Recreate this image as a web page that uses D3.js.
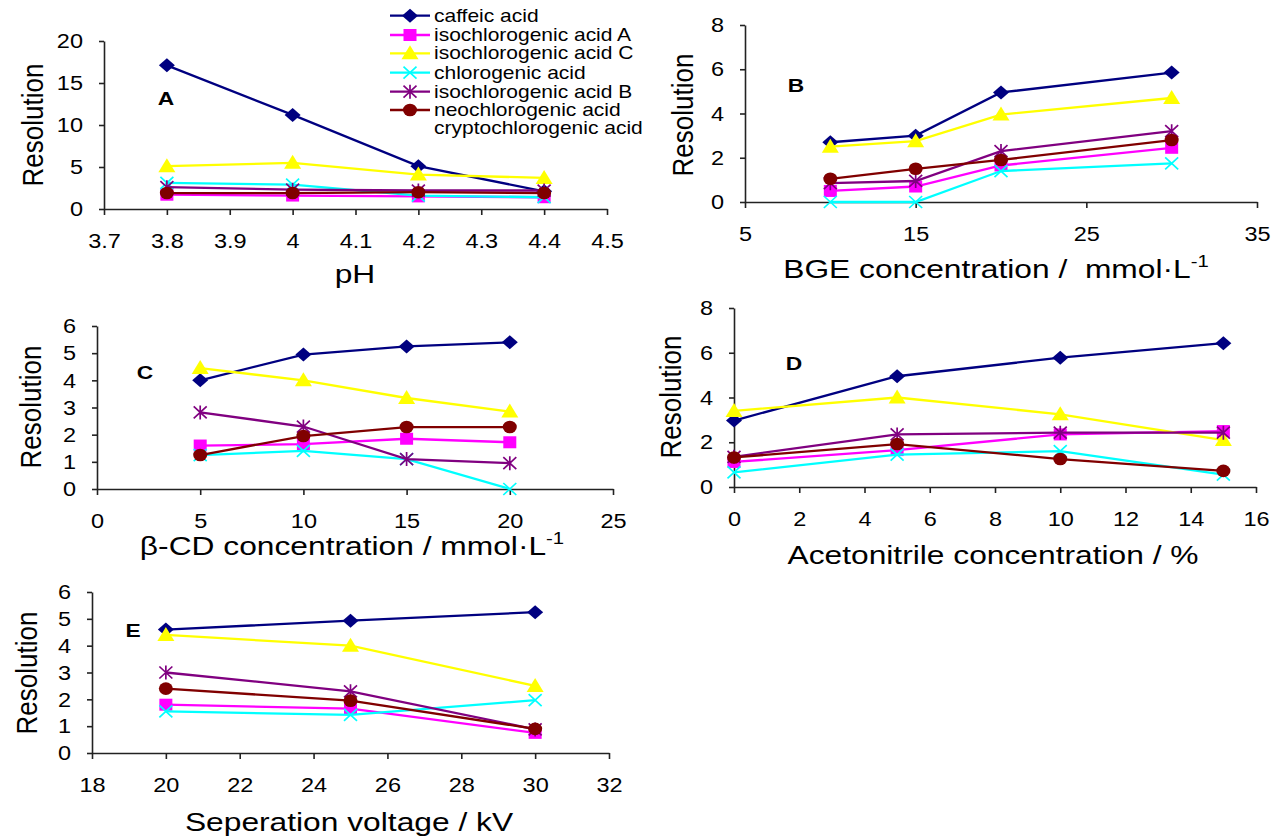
<!DOCTYPE html>
<html><head><meta charset="utf-8">
<script src="https://cdn.jsdelivr.net/npm/d3@7"></script>
<style>
body{margin:0;background:#fff}
text{font-family:"Liberation Sans",Arial,sans-serif;fill:#000}
</style>
</head><body><svg id="c" width="1280" height="839"></svg>
<script>
// ---------- data ----------
const seriesNames = ["caffeic acid","isochlorogenic acid A","isochlorogenic acid C","chlorogenic acid","isochlorogenic acid B","neochlorogenic acid"];
const legendExtra = "cryptochlorogenic acid";
const seriesColors = ["#000080","#ff00ff","#ffff00","#00ffff","#800080","#800000"];
const seriesMarkers = ["diamond","square","triangle","x","star","circle"];

// A: pH
const pH = [3.8, 4.0, 4.2, 4.4];
const resA = [
  [17.1, 11.2, 5.1, 2.1],
  [1.7, 1.6, 1.5, 1.4],
  [5.1, 5.5, 4.1, 3.7],
  [3.1, 2.9, 1.6, 1.4],
  [2.6, 2.3, 2.2, 2.2],
  [1.9, 1.9, 2.0, 1.9]
];
const ticksAx = [3.7, 3.8, 3.9, 4.0, 4.1, 4.2, 4.3, 4.4, 4.5];
const ticksAy = [0, 5, 10, 15, 20];

// B: BGE concentration
const bgeConc = [10, 15, 20, 30];
const resB = [
  [2.7, 3.0, 4.95, 5.85],
  [0.5, 0.7, 1.65, 2.45],
  [2.5, 2.75, 3.95, 4.7],
  [0, 0, 1.4, 1.75],
  [0.85, 0.95, 2.3, 3.2],
  [1.05, 1.5, 1.9, 2.8]
];
const ticksBx = [5, 15, 25, 35];
const ticksBy = [0, 2, 4, 6, 8];

// C: beta-CD concentration
const cdConc = [5, 10, 15, 20];
const resC = [
  [4.0, 4.95, 5.25, 5.4],
  [1.6, 1.65, 1.85, 1.72],
  [4.45, 4.0, 3.35, 2.85],
  [1.25, 1.4, 1.1, 0],
  [2.82, 2.3, 1.1, 0.95],
  [1.25, 1.95, 2.28, 2.28]
];
const ticksCx = [0, 5, 10, 15, 20, 25];
const ticksCy = [0, 1, 2, 3, 4, 5, 6];

// D: acetonitrile concentration
const acnConc = [0, 5, 10, 15];
const resD = [
  [2.97, 4.95, 5.78, 6.43],
  [1.12, 1.65, 2.35, 2.5],
  [3.4, 4.0, 3.25, 2.1],
  [0.65, 1.45, 1.6, 0.55],
  [1.35, 2.35, 2.43, 2.43],
  [1.32, 1.92, 1.25, 0.72]
];
const ticksDx = [0, 2, 4, 6, 8, 10, 12, 14, 16];
const ticksDy = [0, 2, 4, 6, 8];

// E: separation voltage
const voltage = [20, 25, 30];
const resE = [
  [4.6, 4.93, 5.25],
  [1.8, 1.65, 0.75],
  [4.4, 4.0, 2.5],
  [1.55, 1.42, 1.97],
  [3.0, 2.3, 0.88],
  [2.4, 1.95, 0.9]
];
const ticksEx = [18, 20, 22, 24, 26, 28, 30, 32];
const ticksEy = [0, 1, 2, 3, 4, 5, 6];

// ---------- layout ----------
const svg = d3.select("#c");
svg.append("rect").attr("width",1280).attr("height",839).attr("fill","#fff");

const panels = [
  {letter:"A", xs:pH, res:resA, xt:ticksAx, yt:ticksAy, xr:[104,607], yr:[209,41],
   letterPos:[166,105], ylab:[43,125], xlab:{text:"pH", x:355, y:283}},
  {letter:"B", xs:bgeConc, res:resB, xt:ticksBx, yt:ticksBy, xr:[745,1257], yr:[202,25],
   letterPos:[796,92], ylab:[693,115], xlab:{text:"BGE concentration /\u00a0 mmol·L", sup:"-1", x:996, y:278}},
  {letter:"C", xs:cdConc, res:resC, xt:ticksCx, yt:ticksCy, xr:[97,613], yr:[489,326],
   letterPos:[145,379], ylab:[41,407], xlab:{text:"β-CD concentration / mmol·L", sup:"-1", x:352, y:555}},
  {letter:"D", xs:acnConc, res:resD, xt:ticksDx, yt:ticksDy, xr:[734,1256], yr:[487,308],
   letterPos:[794,370], ylab:[681,397], xlab:{text:"Acetonitrile concentration / %", x:993, y:564}},
  {letter:"E", xs:voltage, res:resE, xt:ticksEx, yt:ticksEy, xr:[92,609], yr:[753,592],
   letterPos:[133,637], ylab:[37,673], xlab:{text:"Seperation voltage / kV", x:349, y:831}}
];

function stretchText(sel, sx){
  sel.each(function(){
    const t = d3.select(this);
    const xx = +t.attr("x") || 0, yy = +t.attr("y") || 0;
    t.attr("x",0).attr("y",0).attr("transform",`translate(${xx},${yy}) scale(${sx},1)`);
  });
}

function drawMarker(g, type, color, cx, cy){
  const m = g.append("g").attr("transform",`translate(${cx},${cy})`);
  switch(type){
    case "diamond":
      m.append("path").attr("d","M0,-7L8,0L0,7L-8,0Z").attr("fill",color); break;
    case "square":
      m.append("rect").attr("x",-6.5).attr("y",-6).attr("width",13).attr("height",12).attr("fill",color); break;
    case "triangle":
      m.append("path").attr("d","M0,-8L8.5,6L-8.5,6Z").attr("fill",color); break;
    case "x":
      m.append("path").attr("d","M-6.5,-6L6.5,6M-6.5,6L6.5,-6").attr("stroke",color).attr("stroke-width",1.7).attr("fill","none"); break;
    case "star":
      m.append("path").attr("d","M-6.5,-6L6.5,6M-6.5,6L6.5,-6M0,-7L0,7").attr("stroke",color).attr("stroke-width",1.7).attr("fill","none"); break;
    case "circle":
      m.append("ellipse").attr("rx",7).attr("ry",6.3).attr("fill",color); break;
  }
}

panels.forEach(p => {
  const x = d3.scaleLinear().domain([p.xt[0], p.xt[p.xt.length-1]]).range(p.xr);
  const y = d3.scaleLinear().domain([p.yt[0], p.yt[p.yt.length-1]]).range(p.yr);
  const g = svg.append("g");

  const xa = g.append("g").attr("transform",`translate(0,${p.yr[0]})`)
    .call(d3.axisBottom(x).tickValues(p.xt).tickFormat(d=>String(d)).tickSize(6).tickSizeOuter(0).tickPadding(18));
  const ya = g.append("g").attr("transform",`translate(${p.xr[0]},0)`)
    .call(d3.axisLeft(y).tickValues(p.yt).tickFormat(d=>String(d)).tickSize(5).tickSizeOuter(0).tickPadding(16));
  [xa, ya].forEach(a => {
    a.attr("font-size",null).attr("font-family",null);
    a.selectAll("path.domain").attr("stroke","#222").attr("stroke-width",1.6);
    a.selectAll(".tick line").attr("stroke","#222").attr("stroke-width",1.6);
    a.selectAll(".tick text").attr("font-size",21).attr("fill","#000");
    stretchText(a.selectAll(".tick text"), 1.12);
  });

  // series
  const line = d3.line().x((d,j)=>x(p.xs[j])).y(d=>y(d));
  p.res.forEach((vals,i) => {
    const sg = g.append("g");
    sg.append("path").datum(vals).attr("d",line).attr("fill","none")
      .attr("stroke",seriesColors[i]).attr("stroke-width",2.3);
    vals.forEach((v,j) => drawMarker(sg, seriesMarkers[i], seriesColors[i], x(p.xs[j]), y(v)));
  });

  // panel letter
  g.append("text").attr("x",p.letterPos[0]).attr("y",p.letterPos[1]).attr("text-anchor","middle")
    .attr("font-size",19).attr("font-weight","bold").text(p.letter)
    .call(s=>stretchText(s,1.2));

  // y title
  g.append("text").attr("text-anchor","middle").attr("font-size",26)
    .attr("transform",`translate(${p.ylab[0]},${p.ylab[1]}) scale(1.1,1) rotate(-90)`)
    .text("Resolution");

  // x title
  const xt = g.append("text").attr("text-anchor","middle").attr("font-size",25)
    .attr("transform",`translate(${p.xlab.x},${p.xlab.y}) scale(1.27,1)`);
  xt.append("tspan").text(p.xlab.text);
  if(p.xlab.sup){
    xt.append("tspan").attr("dy",-11).attr("font-size",16).text(p.xlab.sup);
  }
});

// legend
const legendY = [15.7, 35, 53.3, 72.7, 91.7, 110, 128.3];
const lg = svg.append("g");
seriesNames.forEach((name,i) => {
  lg.append("line").attr("x1",390).attr("x2",430).attr("y1",legendY[i]).attr("y2",legendY[i])
    .attr("stroke",seriesColors[i]).attr("stroke-width",2.3);
  drawMarker(lg, seriesMarkers[i], seriesColors[i], 410, legendY[i]);
  lg.append("text").attr("x",434).attr("y",legendY[i]+6).attr("font-size",17.5).text(name)
    .call(s=>stretchText(s,1.2));
});
lg.append("text").attr("x",434).attr("y",legendY[6]+6).attr("font-size",17.5).text(legendExtra)
  .call(s=>stretchText(s,1.2));
</script></body></html>
